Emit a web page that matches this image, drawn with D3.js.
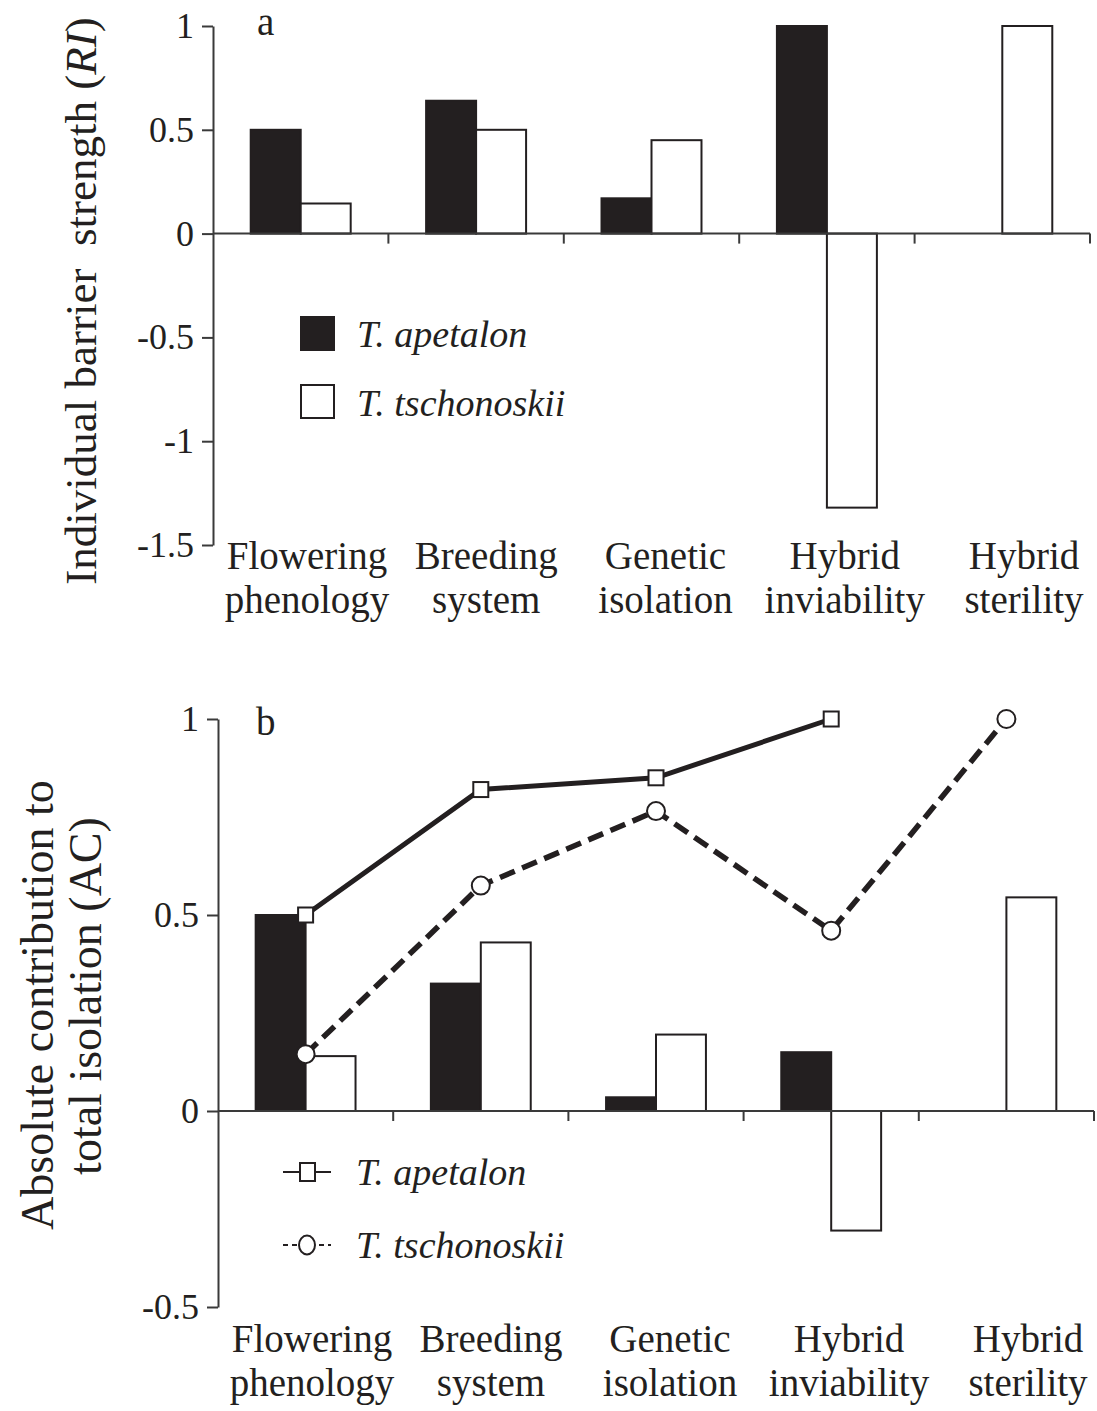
<!DOCTYPE html>
<html>
<head>
<meta charset="utf-8">
<script src="https://cdn.jsdelivr.net/npm/d3@7"></script>
<style>
  body { margin: 0; background: #fff; }
  svg text { font-family: "Liberation Serif", "Times New Roman", serif; fill: #231f20; }
</style>
</head>
<body>
<script>
"use strict";

var categories = [["Flowering", "phenology"], ["Breeding", "system"], ["Genetic", "isolation"],
                  ["Hybrid", "inviability"], ["Hybrid", "sterility"]];
var species = ["T. apetalon", "T. tschonoskii"];

// panel a : individual barrier strength (RI)
var riApetalon    = [0.5, 0.64, 0.17, 1, 0];
var riTschonoskii = [0.145, 0.5, 0.45, -1.32, 1];
var ticksA = [1, 0.5, 0, -0.5, -1, -1.5];

// panel b : absolute contribution (AC) bars + cumulative lines
var acApetalon     = [0.5, 0.325, 0.035, 0.15, 0];
var acTschonoskii  = [0.14, 0.43, 0.195, -0.305, 0.545];
var cumApetalon    = [0.5, 0.82, 0.85, 1, null];
var cumTschonoskii = [0.145, 0.575, 0.765, 0.46, 1];
var ticksB = [1, 0.5, 0, -0.5];

var ink = "#231f20";
var axisInk = "#3a3a3a";

var svg = d3.select("body").append("svg")
    .attr("width", 1097)
    .attr("height", 1411);

function panel(o) {
  var g = svg.append("g");

  var x = d3.scaleBand()
      .domain(d3.range(categories.length))
      .range([o.left, o.right]);
  var y = d3.scaleLinear()
      .domain(o.yDomain)
      .range([o.bottom, o.top]);
  // labels sit on their own, slightly wider spacing
  var lx = d3.scalePoint()
      .domain(d3.range(categories.length))
      .range([o.left + 94, o.right - 66]);

  var bw = x.bandwidth();
  var barW = bw * 0.285;
  var cx = function(i){ return x(i) + bw / 2; };

  // bars
  o.bars.forEach(function(series, s){
    g.selectAll("rect.bar" + s)
      .data(series)
      .enter()
      .filter(function(d){ return d !== 0; })
      .append("rect")
        .attr("x", function(d, i){ return s === 0 ? cx(i) - barW : cx(i); })
        .attr("y", function(d){ return y(Math.max(0, d)); })
        .attr("width", barW)
        .attr("height", function(d){ return Math.abs(y(d) - y(0)); })
        .style("fill", s === 0 ? ink : "#fff")
        .style("stroke", ink)
        .style("stroke-width", 2);
  });

  // x axis along zero
  g.append("line")
      .attr("x1", o.left)
      .attr("x2", o.right)
      .attr("y1", y(0))
      .attr("y2", y(0))
      .style("stroke", axisInk)
      .style("stroke-width", 2);

  g.selectAll("line.xtick")
      .data(d3.range(categories.length))
      .enter().append("line")
        .attr("x1", function(i){ return x(i) + bw; })
        .attr("x2", function(i){ return x(i) + bw; })
        .attr("y1", y(0))
        .attr("y2", y(0) + 10)
        .style("stroke", axisInk)
        .style("stroke-width", 2);

  // y axis
  var ya = g.append("g")
      .attr("transform", "translate(" + o.left + ",0)")
      .call(d3.axisLeft(y)
        .tickValues(o.ticks)
        .tickSize(11)
        .tickSizeOuter(0)
        .tickPadding(8)
        .tickFormat(function(d){ return String(d); }))
      .attr("font-family", null)
      .attr("font-size", null);
  ya.selectAll("path, line").style("stroke", axisInk).style("stroke-width", 2);
  ya.selectAll("text").style("font-size", "36px").style("fill", ink);

  // category labels
  var lab = g.selectAll("text.cat")
      .data(categories)
      .enter().append("text")
        .attr("text-anchor", "middle")
        .style("font-size", "39px");
  lab.append("tspan")
      .attr("x", function(d, i){ return lx(i); })
      .attr("y", o.labelY)
      .text(function(d){ return d[0]; });
  lab.append("tspan")
      .attr("x", function(d, i){ return lx(i); })
      .attr("y", o.labelY + 44)
      .text(function(d){ return d[1]; });

  // panel letter
  g.append("text")
      .attr("x", o.letterX)
      .attr("y", o.letterY)
      .style("font-size", "39px")
      .text(o.letter);

  return {x: x, y: y, g: g, cx: cx};
}

// ---------- panel a ----------
var pa = panel({
  left: 213, right: 1090, top: 26, bottom: 545,
  yDomain: [-1.5, 1], ticks: ticksA,
  bars: [riApetalon, riTschonoskii],
  labelY: 569, letter: "a", letterX: 257, letterY: 35
});

var ta = svg.append("text")
    .attr("transform", "translate(96,301) rotate(-90)")
    .attr("text-anchor", "middle")
    .style("font-size", "45px")
    .style("white-space", "pre");
ta.append("tspan").text("Individual barrier  strength (");
ta.append("tspan").style("font-style", "italic").text("RI");
ta.append("tspan").text(")");

// legend a
var legA = svg.append("g");
species.forEach(function(name, i){
  legA.append("rect")
      .attr("x", 301)
      .attr("y", 317 + i * 68)
      .attr("width", 33)
      .attr("height", 33)
      .style("fill", i === 0 ? ink : "#fff")
      .style("stroke", ink)
      .style("stroke-width", 2);
  legA.append("text")
      .attr("x", 357)
      .attr("y", 347 + i * 69)
      .style("font-size", "38px")
      .style("font-style", "italic")
      .text(name);
});

// ---------- panel b ----------
var pb = panel({
  left: 218, right: 1094, top: 719, bottom: 1307,
  yDomain: [-0.5, 1], ticks: ticksB,
  bars: [acApetalon, acTschonoskii],
  labelY: 1352, letter: "b", letterX: 256, letterY: 735
});

var lineGen = d3.line()
    .defined(function(d){ return d != null; })
    .x(function(d, i){ return pb.cx(i); })
    .y(function(d){ return pb.y(d); });

pb.g.append("path")
    .datum(cumTschonoskii)
    .attr("d", lineGen)
    .style("fill", "none")
    .style("stroke", ink)
    .style("stroke-width", 5.5)
    .style("stroke-dasharray", "16,8");

pb.g.append("path")
    .datum(cumApetalon)
    .attr("d", lineGen)
    .style("fill", "none")
    .style("stroke", ink)
    .style("stroke-width", 5);

pb.g.selectAll("circle.pt")
    .data(cumTschonoskii)
    .enter().append("circle")
      .attr("cx", function(d, i){ return pb.cx(i); })
      .attr("cy", function(d){ return pb.y(d); })
      .attr("r", 9)
      .style("fill", "#fff")
      .style("stroke", ink)
      .style("stroke-width", 2);

pb.g.selectAll("rect.pt")
    .data(cumApetalon.map(function(v, i){ return {v: v, i: i}; }).filter(function(d){ return d.v != null; }))
    .enter().append("rect")
      .attr("x", function(d){ return pb.cx(d.i) - 7.5; })
      .attr("y", function(d){ return pb.y(d.v) - 7.5; })
      .attr("width", 15)
      .attr("height", 15)
      .style("fill", "#fff")
      .style("stroke", ink)
      .style("stroke-width", 2);

svg.append("text")
    .attr("transform", "translate(53,1005) rotate(-90)")
    .attr("text-anchor", "middle")
    .style("font-size", "46px")
    .text("Absolute contribution to");
svg.append("text")
    .attr("transform", "translate(101,996) rotate(-90)")
    .attr("text-anchor", "middle")
    .style("font-size", "46px")
    .text("total isolation (AC)");

// legend b
var legB = svg.append("g");
species.forEach(function(name, i){
  var yy = 1172 + i * 73;
  legB.append("line")
      .attr("x1", 283).attr("x2", 331)
      .attr("y1", yy).attr("y2", yy)
      .style("stroke", ink)
      .style("stroke-width", 2)
      .style("stroke-dasharray", i === 0 ? null : "5,4");
  if (i === 0) {
    legB.append("rect")
        .attr("x", 300).attr("y", yy - 9)
        .attr("width", 15).attr("height", 18)
        .style("fill", "#fff").style("stroke", ink).style("stroke-width", 2);
  } else {
    legB.append("ellipse")
        .attr("cx", 307).attr("cy", yy)
        .attr("rx", 8).attr("ry", 9.5)
        .style("fill", "#fff").style("stroke", ink).style("stroke-width", 2);
  }
  legB.append("text")
      .attr("x", 356)
      .attr("y", yy + 13)
      .style("font-size", "38px")
      .style("font-style", "italic")
      .text(name);
});
</script>
</body>
</html>
